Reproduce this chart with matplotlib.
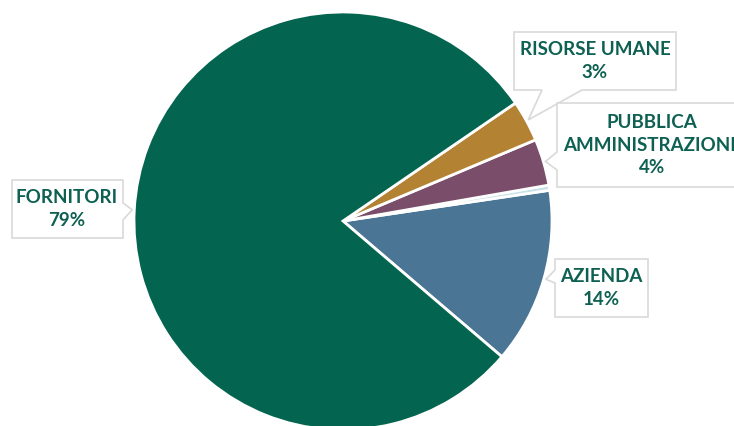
import numpy as np
import matplotlib
matplotlib.use("Agg")
from matplotlib import pyplot as plt
from matplotlib.patches import Polygon

# slices, counter-clockwise starting from the lower edge of AZIENDA
labels = ["AZIENDA", "", "PUBBLICA\nAMMINISTRAZIONE", "RISORSE UMANE", "FORNITORI"]
values = [13.6, 0.4, 3.6, 3.2, 79.2]
colors = ["#4B7595", "#C6E1E7", "#7A4D6B", "#B38233", "#03654F"]

W, H = 734, 426
CX, CY, R = 343, 221, 209
TXT = "#0E6152"

fig = plt.figure(figsize=(W / 100, H / 100), dpi=100)
ax = fig.add_axes([(CX - R) / W, (H - CY - R) / H, 2 * R / W, 2 * R / H])
wedges, _ = ax.pie(values, colors=colors, startangle=-40.5, counterclock=True,
                   wedgeprops=dict(edgecolor="white", linewidth=2))
ax.set_xlim(-1, 1)
ax.set_ylim(-1, 1)
ax.set_aspect("equal")
ax.axis("off")


def d(px, py):
    # pixel (top-left origin) -> data coords of the pie axes
    return ((px - CX) / R, (CY - py) / R)


def callout(wedge, box, side, span, text, tcx, tcy):
    x0, y0, x1, y1 = box
    mid = np.deg2rad((wedge.theta1 + wedge.theta2) / 2)
    tip = (1.01 * np.cos(mid), 1.01 * np.sin(mid))
    a, b = span
    if side == "bottom":
        pts = [d(x0, y0), d(x1, y0), d(x1, y1), d(b, y1), tip, d(a, y1), d(x0, y1)]
    elif side == "left":
        pts = [d(x0, y0), d(x1, y0), d(x1, y1), d(x0, y1), d(x0, b), tip, d(x0, a)]
    else:
        pts = [d(x0, y0), d(x1, y0), d(x1, a), tip, d(x1, b), d(x1, y1), d(x0, y1)]
    ax.add_patch(Polygon(pts, closed=True, facecolor="white", edgecolor="#D9D9D9",
                         linewidth=1.2, clip_on=False, zorder=3))
    tx, ty = d(tcx, tcy)
    ax.text(tx, ty, text, ha="center", va="center", color=TXT, fontsize=13.5,
            fontweight="bold", family="Lato", linespacing=1.4, zorder=4,
            clip_on=False)


pct = [f"{round(v):.0f}%" for v in values]
callout(wedges[3], (514, 32, 676, 90), "bottom", (542, 582),
        labels[3] + "\n" + pct[3], 595, 61)
callout(wedges[2], (557, 103, 748, 187), "left", (152, 170),
        labels[2] + "\n" + pct[2], 652, 145)
callout(wedges[4], (12, 180, 123, 238), "right", (203, 220),
        labels[4] + "\n" + pct[4], 67, 209)
callout(wedges[0], (555, 259, 648, 317), "left", (270, 283),
        labels[0] + "\n" + pct[0], 601, 288)

fig.savefig("out.png", dpi=100)
